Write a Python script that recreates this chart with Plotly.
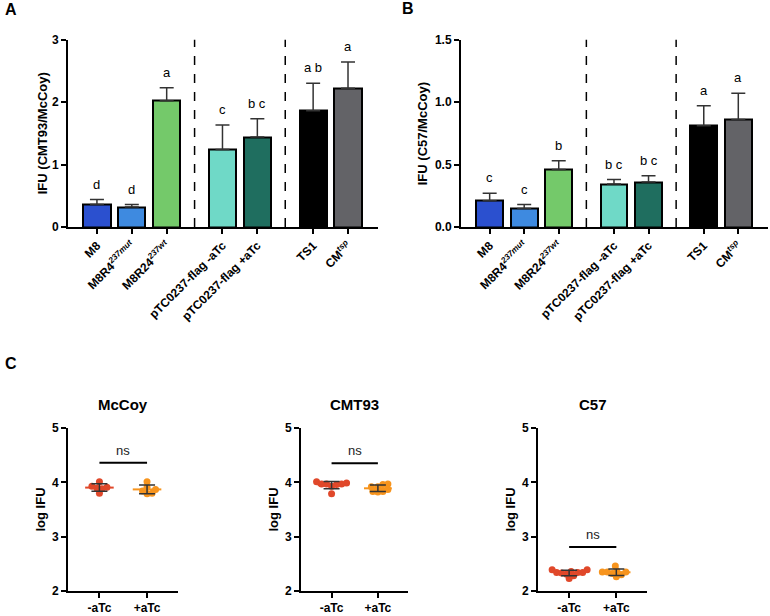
import numpy as np
import plotly.graph_objects as go

W, H = 770, 616
FONT = "Arial, Liberation Sans, sans-serif"

# ---------------- data ----------------
categories = ["M8", "M8R4<sup><i>237mut</i></sup>", "M8R24<sup><i>237wt</i></sup>",
              "pTC0237-flag -aTc", "pTC0237-flag +aTc", "TS1", "CM<sup><i>tsp</i></sup>"]
group_sizes = [3, 2, 2]
bar_colors = ["#2B50CF", "#3E8AE0", "#74C96A", "#6FD9C7", "#1F6E5F", "#000000", "#636367"]

a_means = [0.36, 0.32, 2.02, 1.24, 1.44, 1.86, 2.22]
a_err = [0.08, 0.04, 0.21, 0.39, 0.29, 0.44, 0.42]
a_letters = ["d", "d", "a", "c", "b c", "a b", "a"]

b_means = [0.21, 0.147, 0.46, 0.344, 0.36, 0.81, 0.86]
b_err = [0.06, 0.033, 0.07, 0.036, 0.05, 0.16, 0.21]
b_letters = ["c", "c", "b", "b c", "b c", "a", "a"]

c_titles = ["McCoy", "CMT93", "C57"]
c_groups = ["-aTc", "+aTc"]
c_minus = [
    [3.80, 3.91, 3.93, 4.01, 3.89, 3.88],
    [3.97, 3.97, 4.01, 3.79, 3.96, 3.97, 3.99, 3.93],
    [2.34, 2.39, 2.23, 2.31, 2.39, 2.28, 2.34, 2.34, 2.33, 2.36],
]
c_plus = [
    [3.91, 3.79, 4.01, 3.87, 3.80, 3.84],
    [3.83, 3.92, 3.97, 3.82, 3.92, 3.83, 3.96, 3.87],
    [2.35, 2.35, 2.46, 2.30, 2.26, 2.35, 2.37, 2.32],
]
c_sig_y = [4.36, 4.35, 2.81]
c_sig_text = ["ns", "ns", "ns"]
c_colors = ["#E0482A", "#F7941D"]

# ---------------- helpers ----------------
def px(x):
    return x / W

def py(y):
    return 1 - y / H

# bar positions with gaps between groups
pos = []
p = 0.0
dividers = []
for gi, n in enumerate(group_sizes):
    for k in range(n):
        pos.append(p)
        p += 1.0
    if gi < len(group_sizes) - 1:
        dividers.append(p - 1.0 + 0.8)
    p += 0.6

fig = go.Figure()

tick_font = dict(family=FONT, size=12, color="black", weight="bold")
axis_common = dict(showline=True, linecolor="black", linewidth=2, ticks="outside",
                   ticklen=5, tickwidth=2, tickcolor="black", showgrid=False,
                   zeroline=False, automargin=False, tickfont=tick_font)

title_font = dict(family=FONT, size=13, color="black", weight="bold")

def ytitle_ann(text, xpix, ytop, ybot):
    fig.add_annotation(x=px(xpix), y=py((ytop + ybot) / 2), xref="paper", yref="paper",
                       text=text, textangle=-90, showarrow=False,
                       xanchor="center", yanchor="middle", font=title_font)

def add_bar_panel(idx, means, errs, letters, xdom, ydom, yrange, ytickvals, ytitle, tickfmt, title_x):
    xa = "x" if idx == 1 else f"x{idx}"
    ya = "y" if idx == 1 else f"y{idx}"
    fig.add_trace(go.Bar(
        x=pos, y=means, width=0.78, marker=dict(color=bar_colors, line=dict(color="black", width=2)),
        error_y=dict(type="data", symmetric=False, array=errs, arrayminus=[0] * len(errs),
                     color="#333333", thickness=1.5, width=7),
        xaxis=xa, yaxis=ya, showlegend=False, hoverinfo="skip"))
    for x, m, e, t in zip(pos, means, errs, letters):
        fig.add_annotation(x=x, y=m + e, xref=xa, yref=ya, text=t, showarrow=False,
                           yanchor="bottom", yshift=6,
                           font=dict(family=FONT, size=13, color="black"))
    for d in dividers:
        fig.add_shape(type="line", x0=d, x1=d, y0=yrange[0], y1=yrange[1], xref=xa, yref=ya,
                      line=dict(color="black", width=1.5, dash="dash"))
    kx = "xaxis" if idx == 1 else f"xaxis{idx}"
    ky = "yaxis" if idx == 1 else f"yaxis{idx}"
    fig.update_layout(**{
        kx: dict(axis_common, domain=[px(xdom[0]), px(xdom[1])], range=[-0.83, 8.06], anchor=ya,
                 tickvals=pos, ticktext=categories, tickangle=-45),
        ky: dict(axis_common, domain=[py(ydom[1]), py(ydom[0])], range=yrange, anchor=xa,
                 tickvals=ytickvals, tickformat=tickfmt),
    })
    ytitle_ann(ytitle, title_x, ydom[0], ydom[1])

add_bar_panel(1, a_means, a_err, a_letters, [68, 378], [39.5, 227],
              [0, 3], [0, 1, 2, 3], "IFU (CMT93/McCoy)", "d", 42)
add_bar_panel(2, b_means, b_err, b_letters, [461, 768], [39.5, 227],
              [0, 1.5], [0, 0.5, 1.0, 1.5], "IFU (C57/McCoy)", ".1f", 422)

# ---------------- panel C ----------------
def swarm(vals, xppu, yppu, diam=5.0):
    vals = np.asarray(vals, dtype=float)
    order = np.argsort(vals)
    placed = []
    offs = np.zeros(len(vals))
    cands = [0.0]
    for s in np.arange(0.5, 30, 0.5):
        cands += [s, -s]
    for i in order:
        yy = vals[i] * yppu
        for c in cands:
            if all((c - qx) ** 2 + (yy - qy) ** 2 >= diam ** 2 for qx, qy in placed):
                placed.append((c, yy))
                offs[i] = c / xppu
                break
    return offs

c_xdoms = [[68, 178], [301, 408], [538, 647]]
c_title_x = [40, 273, 510]
c_top, c_bot = 428, 591
xr = [-0.66, 1.65]
for j in range(3):
    idx = 3 + j
    xa, ya = f"x{idx}", f"y{idx}"
    xd = c_xdoms[j]
    xppu = (xd[1] - xd[0]) / (xr[1] - xr[0])
    yppu = (c_bot - c_top) / 3.0
    for g, vals in enumerate([c_minus[j], c_plus[j]]):
        offs = swarm(vals, xppu, yppu)
        fig.add_trace(go.Scatter(x=g + offs, y=vals, mode="markers", xaxis=xa, yaxis=ya,
                                 marker=dict(color=c_colors[g], size=7, line=dict(width=0)),
                                 showlegend=False, hoverinfo="skip"))
        m = float(np.mean(vals))
        sd = float(np.std(vals, ddof=1))
        fig.add_trace(go.Scatter(x=[g - 0.3, g + 0.3], y=[m, m], mode="lines", xaxis=xa, yaxis=ya,
                                 line=dict(color=c_colors[g], width=2),
                                 showlegend=False, hoverinfo="skip"))
        fig.add_trace(go.Scatter(x=[g], y=[m], mode="markers", xaxis=xa, yaxis=ya,
                                 marker=dict(size=1, color="rgba(0,0,0,0)"),
                                 error_y=dict(type="data", array=[sd], color="#333333",
                                              thickness=1.5, width=8),
                                 showlegend=False, hoverinfo="skip"))
    # significance bar
    fig.add_shape(type="line", x0=0, x1=1, y0=c_sig_y[j], y1=c_sig_y[j], xref=xa, yref=ya,
                  line=dict(color="black", width=2))
    fig.add_annotation(x=0.5, y=c_sig_y[j], xref=xa, yref=ya, text=c_sig_text[j],
                       showarrow=False, yanchor="bottom", yshift=3,
                       font=dict(family=FONT, size=13, color="#222222"))
    fig.add_annotation(x=px((xd[0] + xd[1]) / 2), y=py(404), xref="paper", yref="paper",
                       text=c_titles[j], showarrow=False, xanchor="center", yanchor="middle",
                       font=dict(family=FONT, size=15, color="black", weight="bold"))
    fig.update_layout(**{
        f"xaxis{idx}": dict(axis_common, domain=[px(xd[0]), px(xd[1])], range=xr, anchor=ya,
                             tickvals=[0, 1], ticktext=c_groups),
        f"yaxis{idx}": dict(axis_common, domain=[py(c_bot), py(c_top)], range=[2, 5], anchor=xa,
                             tickvals=[2, 3, 4, 5]),
    })
    ytitle_ann("log IFU", c_title_x[j], c_top, c_bot)

# panel letters
for lab, (x, y) in zip(["A", "B", "C"], [(11, 9), (408, 8), (11, 363)]):
    fig.add_annotation(x=px(x), y=py(y), xref="paper", yref="paper", text=lab, showarrow=False,
                       xanchor="center", yanchor="middle",
                       font=dict(family=FONT, size=16, color="black", weight="bold"))

fig.update_layout(width=W, height=H, margin=dict(l=0, r=0, t=0, b=0),
                  paper_bgcolor="white", plot_bgcolor="white", bargap=0,
                  font=dict(family=FONT, color="black"))

fig.write_html("out.html")
